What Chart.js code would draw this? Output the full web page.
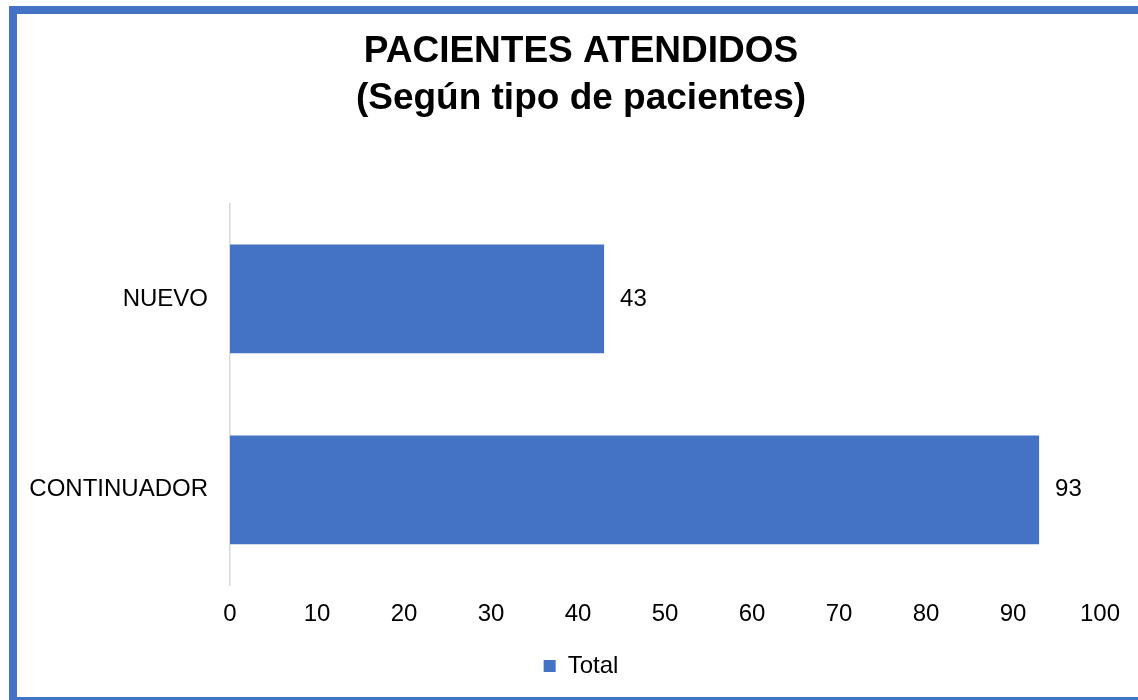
<!DOCTYPE html>
<html>
<head>
<meta charset="utf-8">
<script src="https://cdn.jsdelivr.net/npm/chart.js@4"></script>
<style>
    html, body { margin: 0; padding: 0; background: #fff; overflow: hidden; }
    #wrap { position: relative; width: 1138px; height: 700px; }
    #frame {
        position: absolute; left: 9px; top: 6px; width: 1200px; height: 699px;
        box-sizing: border-box; border: 8px solid #4472C4; pointer-events: none;
    }
    canvas { position: absolute; left: 0; top: 0; }
</style>
</head>
<body>
<div id="wrap">
    <canvas id="patientChart" width="1138" height="700"></canvas>
    <div id="frame"></div>
</div>
<script>
const categories = ['NUEVO', 'CONTINUADOR'];
const totals = [43, 93];
const titleLines = ['PACIENTES ATENDIDOS', '(Según tipo de pacientes)'];
const seriesName = 'Total';

const fontFamily = '"Liberation Sans", Arial, sans-serif';

// escribe el valor al final de cada barra
const valueLabels = {
    id: 'valueLabels',
    afterDatasetsDraw(chart) {
        const { ctx } = chart;
        const meta = chart.getDatasetMeta(0);
        ctx.save();
        ctx.font = '24px ' + fontFamily;
        ctx.fillStyle = '#000';
        ctx.textAlign = 'left';
        ctx.textBaseline = 'middle';
        meta.data.forEach((bar, i) => {
            ctx.fillText(String(totals[i]), bar.x + 16, bar.y);
        });
        ctx.restore();
    }
};

// corre título y leyenda un poco a la derecha, como en el original
const shiftBoxes = {
    id: 'shiftBoxes',
    afterLayout(chart) {
        if (chart.titleBlock) chart.titleBlock.left += 42;
        if (chart.legend) chart.legend.left += 42;
    }
};

const ctx = document.getElementById('patientChart').getContext('2d');
new Chart(ctx, {
    type: 'bar',
    data: {
        labels: categories,
        datasets: [{
            label: seriesName,
            data: totals,
            backgroundColor: '#4472C4',
            borderWidth: 0,
            barPercentage: 0.57,
            categoryPercentage: 1
        }]
    },
    options: {
        indexAxis: 'y',
        responsive: false,
        animation: false,
        layout: { padding: { left: 20, right: 38, top: 16, bottom: 12 } },
        scales: {
            x: {
                min: 0,
                max: 100,
                grid: { display: false, drawTicks: false },
                border: { display: false },
                ticks: {
                    stepSize: 10,
                    padding: 15,
                    color: '#000',
                    font: { family: fontFamily, size: 24 }
                }
            },
            y: {
                grid: { display: false, drawTicks: false },
                border: { display: true, color: '#d9d9d9', width: 1.5 },
                ticks: {
                    padding: 22,
                    color: '#000',
                    font: { family: fontFamily, size: 24 }
                },
                afterFit(scale) { scale.width = 210; }
            }
        },
        plugins: {
            title: {
                display: true,
                text: titleLines,
                color: '#000',
                font: { family: fontFamily, size: 37, weight: 'bold', lineHeight: 1.25 },
                padding: { top: 13, bottom: 82 }
            },
            legend: {
                position: 'bottom',
                labels: {
                    boxWidth: 12,
                    boxHeight: 12,
                    color: '#000',
                    font: { family: fontFamily, size: 24 }
                }
            },
            tooltip: { enabled: false }
        }
    },
    plugins: [valueLabels, shiftBoxes]
});
</script>
</body>
</html>
